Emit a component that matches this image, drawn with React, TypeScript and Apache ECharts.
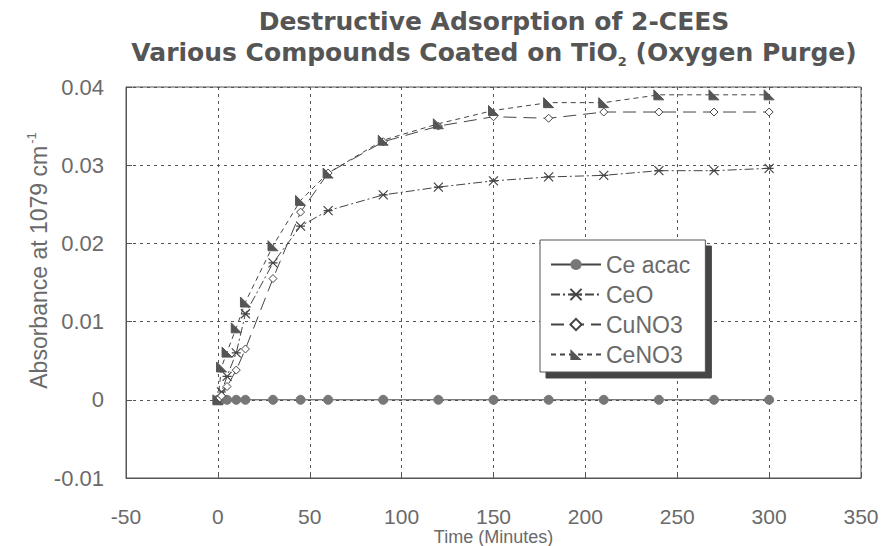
import React, { useEffect, useRef } from "react";
import * as echarts from "echarts";

const times = [0, 2, 5, 10, 15, 30, 45, 60, 90, 120, 150, 180, 210, 240, 270, 300];
const ceAcac = [0, 0, 0, 0, 0, 0, 0, 0, 0, 0, 0, 0, 0, 0, 0, 0];
const ceO = [0, 0.001, 0.003, 0.006, 0.011, 0.0175, 0.0222, 0.0242, 0.0262, 0.0272, 0.028, 0.0285, 0.0287, 0.0293, 0.0293, 0.0296];
const cuNO3 = [0, 0.0005, 0.0017, 0.0038, 0.0065, 0.0155, 0.024, 0.029, 0.033, 0.035, 0.0362, 0.036, 0.0368, 0.0368, 0.0368, 0.0368];
const ceNO3 = [0, 0.0042, 0.0061, 0.0092, 0.0125, 0.0197, 0.0255, 0.029, 0.0332, 0.0353, 0.037, 0.038, 0.038, 0.039, 0.039, 0.039];
const seriesNames = ["Ce acac", "CeO", "CuNO3", "CeNO3"];

const FONT = '"Liberation Sans", Arial, sans-serif';
const TITLE_FONT = '"DejaVu Sans", Verdana, sans-serif';
const INK = "#444";
const LABEL = "#6a6a6a";

const pair = (ys: number[]) => times.map((t, i) => [t, ys[i]]);

export default function App() {
  const ref = useRef<HTMLDivElement>(null);
  useEffect(() => {
    if (!ref.current) return;
    const chart = echarts.init(ref.current, undefined, { renderer: "svg" });
    chart.setOption({
      animation: false,
      backgroundColor: "#fff",
      title: {
        left: 489,
        textAlign: "center",
        top: 1,
        text: "Destructive Adsorption of 2-CEES\nVarious Compounds Coated on TiO{sub|2} (Oxygen Purge)",
        textStyle: {
          fontFamily: TITLE_FONT,
          fontWeight: "bold",
          fontSize: 25,
          color: "#555",
          lineHeight: 31,
          rich: {
            sub: {
              fontSize: 13,
              fontWeight: "bold",
              color: "#555",
              lineHeight: 31,
              padding: [18, 0, 0, 0],
              fontFamily: TITLE_FONT,
            },
          },
        },
      },
      grid: {
        left: 126,
        right: 22,
        top: 87,
        bottom: 68,
        show: true,
        borderColor: "#555",
        borderWidth: 1,
        outerBoundsMode: "none",
        containLabel: false,
      },
      legend: {
        data: seriesNames,
        orient: "vertical",
        left: 540,
        top: 240,
        padding: [13, 15, 6, 10],
        itemGap: 7,
        itemWidth: 50,
        itemHeight: 14,
        backgroundColor: "#fff",
        borderColor: "#555",
        borderWidth: 1,
        borderRadius: 0,
        shadowColor: "#444",
        shadowBlur: 0,
        shadowOffsetX: 6,
        shadowOffsetY: 6,
        textStyle: { fontFamily: FONT, fontSize: 23, color: LABEL },
      },
      xAxis: {
        type: "value",
        min: -50,
        max: 350,
        interval: 50,
        name: "Time (Minutes)",
        nameLocation: "middle",
        nameGap: 50,
        nameMoveOverlap: false,
        nameTextStyle: { fontFamily: FONT, fontSize: 18, color: LABEL, verticalAlign: "top" },
        axisLine: { show: true, onZero: false, lineStyle: { color: "#555" } },
        axisTick: { show: true, inside: true, length: 6, lineStyle: { color: "#555" } },
        axisLabel: { fontFamily: FONT, fontSize: 21, color: LABEL, margin: 28 },
        splitLine: { show: true, lineStyle: { color: "#555", type: [3, 4], width: 1 } },
      },
      yAxis: {
        type: "value",
        min: -0.01,
        max: 0.04,
        interval: 0.01,
        name: "Absorbance at 1079 cm{sup|-1}",
        nameLocation: "middle",
        nameGap: 74,
        nameMoveOverlap: false,
        nameTextStyle: {
          fontFamily: FONT,
          fontSize: 23,
          color: LABEL,
          padding: [0, 0, 0, 44],
          rich: {
            sup: { fontFamily: FONT, fontSize: 13, color: LABEL, padding: [0, 0, 14, 2] },
          },
        },
        axisLine: { show: true, onZero: false, lineStyle: { color: "#555" } },
        axisTick: { show: true, inside: true, length: 6, lineStyle: { color: "#555" } },
        axisLabel: {
          fontFamily: FONT,
          fontSize: 22,
          color: LABEL,
          margin: 22,
          formatter: (v: number) => (Math.abs(v) < 1e-9 ? "0" : String(Math.round(v * 1000) / 1000)),
        },
        splitLine: { show: true, lineStyle: { color: "#555", type: [3, 4], width: 1 } },
      },
      series: [
        {
          name: seriesNames[0],
          type: "line",
          data: pair(ceAcac),
          symbol: "circle",
          symbolSize: 9,
          lineStyle: { color: INK, width: 1 },
          itemStyle: { color: "#777", borderColor: "#777" },
          z: 3,
        },
        {
          name: seriesNames[1],
          type: "line",
          data: pair(ceO),
          symbol: "path://M0,0L10,10M10,0L0,10M0,5L10,5",
          symbolSize: 9,
          lineStyle: { color: INK, width: 1, type: [9, 3, 2, 3] },
          itemStyle: { color: "none", borderColor: INK, borderWidth: 1.2 },
        },
        {
          name: seriesNames[2],
          type: "line",
          data: pair(cuNO3),
          symbol: "diamond",
          symbolSize: 8,
          lineStyle: { color: INK, width: 1, type: [13, 7] },
          itemStyle: { color: "#fff", borderColor: INK, borderWidth: 1 },
        },
        {
          name: seriesNames[3],
          type: "line",
          data: pair(ceNO3),
          symbol: "path://M0,0L0,10L10,10Z",
          symbolSize: 10,
          lineStyle: { color: INK, width: 1, type: [5, 4] },
          itemStyle: { color: "#555", borderColor: "#555" },
        },
      ],
    });
    return () => chart.dispose();
  }, []);
  return (
    <div
      ref={ref}
      style={{ position: "fixed", left: 0, top: 0, width: 883, height: 546, background: "#fff" }}
    />
  );
}
